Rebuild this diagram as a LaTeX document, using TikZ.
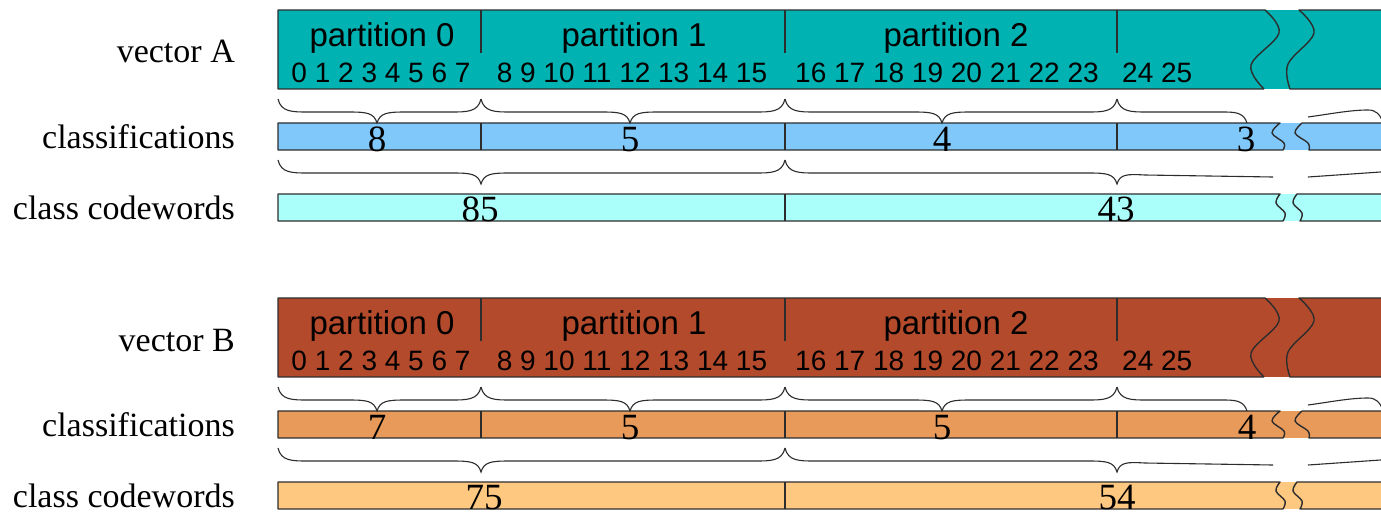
\documentclass[tikz,border=0pt]{standalone}
\usepackage{fontspec}
\setmainfont{Liberation Serif}
\newfontfamily\sansf{Liberation Sans}
\definecolor{vecA}{RGB}{0,178,178}
\definecolor{clsA}{RGB}{128,200,250}
\definecolor{cwA}{RGB}{170,255,250}
\definecolor{vecB}{RGB}{180,74,44}
\definecolor{clsB}{RGB}{232,154,90}
\definecolor{cwB}{RGB}{255,200,128}
\definecolor{bordc}{RGB}{45,45,45}
\tikzset{
  bd/.style={draw=bordc, line width=1.4pt, line join=round},
  br/.style={draw=bordc, line width=1.1pt},
  lab/.style={anchor=base east, font=\fontsize{34}{40}\selectfont, inner sep=0pt},
  part/.style={anchor=base, font=\sansf\fontsize{33}{40}\selectfont, inner sep=0pt},
  idx/.style={anchor=base, font=\sansf\fontsize{28}{32}\selectfont, inner sep=0pt},
  num/.style={anchor=base, font=\fontsize{37}{40}\selectfont, inner sep=0pt, text depth=0pt},
}
% brace: x0 x1 xtip ytop yarm ytip
\newcommand\mybrc[6]{%
  \draw[br] (#1,#4) .. controls ({#1+3},{#5}) and ({#1+14},{#5}) .. ({#1+30},#5)
    -- ({#3-28},#5) .. controls ({#3-10},#5) and ({#3-3},{#5+1}) .. (#3,#6)
    .. controls ({#3+3},{#5+1}) and ({#3+10},#5) .. ({#3+28},#5)
    -- ({#2-30},#5) .. controls ({#2-14},#5) and ({#2-3},#5) .. (#2,#4);}
\newcommand\blockshapes[3]{%
  % vector bar
  \fill[#1] (278,10) rectangle (1395,89);
  \draw[bd] (1264,89) -- (278,89) -- (278,10) -- (1265,10)
    -- plot[smooth,tension=0.6] coordinates {(1265,10) (1279,33) (1251,65) (1264,89)};
  \draw[bd] (1395,10) -- (1299,10)
    -- plot[smooth,tension=0.6] coordinates {(1299,10) (1314,33) (1288,64) (1290,89)} -- (1395,89);
  \foreach \xx in {481,785,1117} {\draw[bd] (\xx,10) -- (\xx,53);}
  % classifications bar
  \fill[#2] (278,123) rectangle (1395,150);
  \draw[bd] (1283,150) -- (278,150) -- (278,123) -- (1280,123)
    -- plot[smooth,tension=0.6] coordinates {(1280,123) (1272,133) (1284,143) (1283,150)};
  \draw[bd] (1395,123) -- (1302,123)
    -- plot[smooth,tension=0.6] coordinates {(1302,123) (1295,133) (1308,143) (1309,150)} -- (1395,150);
  \foreach \xx in {481,785,1117} {\draw[bd] (\xx,123) -- (\xx,150);}
  % codewords bar
  \fill[#3] (278,194) rectangle (1395,221);
  \draw[bd] (1283,221) -- (278,221) -- (278,194) -- (1280,194)
    -- plot[smooth,tension=0.6] coordinates {(1280,194) (1276,203) (1285,213) (1283,221)};
  \draw[bd] (1395,194) -- (1297,194)
    -- plot[smooth,tension=0.6] coordinates {(1297,194) (1293,203) (1302,213) (1300,221)} -- (1395,221);
  \draw[bd] (785,194) -- (785,221);
  % braces row 1
  \mybrc{278}{481}{377}{99}{112}{123}
  \mybrc{481}{785}{630}{99}{112}{123}
  \mybrc{785}{1117}{942}{99}{112}{123}
  \draw[br] (1117,99) .. controls (1120,112) and (1131,112) .. (1147,112)
    -- (1225,112) .. controls (1238,112) and (1244,114) .. (1247,123);
  \draw[br] (1308,117) .. controls (1330,114) and (1350,110) .. (1368,110)
    .. controls (1376,110) and (1380,114) .. (1383,123);
  % braces row 2
  \mybrc{278}{785}{481}{160}{173}{184}
  \draw[br] (785,160) .. controls (788,173) and (799,173) .. (815,173)
    -- (1089,173) .. controls (1107,173) and (1114,174) .. (1117,184)
    .. controls (1120,174) and (1127,174) .. (1145,175) -- (1273,177);
  \draw[br] (1308,177) -- (1395,171);
}
\begin{document}
\begin{tikzpicture}[x=1pt,y=-1pt]
\useasboundingbox (0,0) rectangle (1381,515);
\clip (0,0) rectangle (1381,515);
\fill[white] (0,0) rectangle (1381,515);
% ---------------- vector A ----------------
\begin{scope}
  \blockshapes{vecA}{clsA}{cwA}
  \node[lab] (labVA) at (235,62) {vector A};
  \node[lab] (labCA) at (235,148) {classifications};
  \node[lab] (labWA) at (235,219) {class codewords};
  \node[part] (p0A) at (382,46) {partition 0};
  \node[part] (p1A) at (634,46) {partition 1};
  \node[part] (p2A) at (956,46) {partition 2};
  \node[idx] (i0A) at (381,82) {0 1 2 3 4 5 6 7};
  \node[idx] (i1A) at (632,82) {8 9 10 11 12 13 14 15};
  \node[idx] (i2A) at (947,82) {16 17 18 19 20 21 22 23};
  \node[idx, anchor=base west] (i3A) at (1122,82) {24 25};
  \node[num] (c0A) at (377,151) {8};
  \node[num] (c1A) at (630,151) {5};
  \node[num] (c2A) at (942,151) {4};
  \node[num] (c3A) at (1246,151) {3};
  \node[num] (w0A) at (480,221) {85};
  \node[num] (w1A) at (1116,221) {43};
\end{scope}
% ---------------- vector B ----------------
\begin{scope}[shift={(0,288)}]
  \blockshapes{vecB}{clsB}{cwB}
  \node[lab] (labVB) at (235,63) {vector B};
  \node[lab] (labCB) at (235,148) {classifications};
  \node[lab] (labWB) at (235,219) {class codewords};
  \node[part] (p0B) at (382,46) {partition 0};
  \node[part] (p1B) at (634,46) {partition 1};
  \node[part] (p2B) at (956,46) {partition 2};
  \node[idx] (i0B) at (381,82) {0 1 2 3 4 5 6 7};
  \node[idx] (i1B) at (632,82) {8 9 10 11 12 13 14 15};
  \node[idx] (i2B) at (947,82) {16 17 18 19 20 21 22 23};
  \node[idx, anchor=base west] (i3B) at (1122,82) {24 25};
  \node[num] (c0B) at (377,151) {7};
  \node[num] (c1B) at (630,151) {5};
  \node[num] (c2B) at (942,151) {5};
  \node[num] (c3B) at (1247,151) {4};
  \node[num] (w0B) at (484,221) {75};
  \node[num] (w1B) at (1117,221) {54};
\end{scope}
\end{tikzpicture}
\end{document}
